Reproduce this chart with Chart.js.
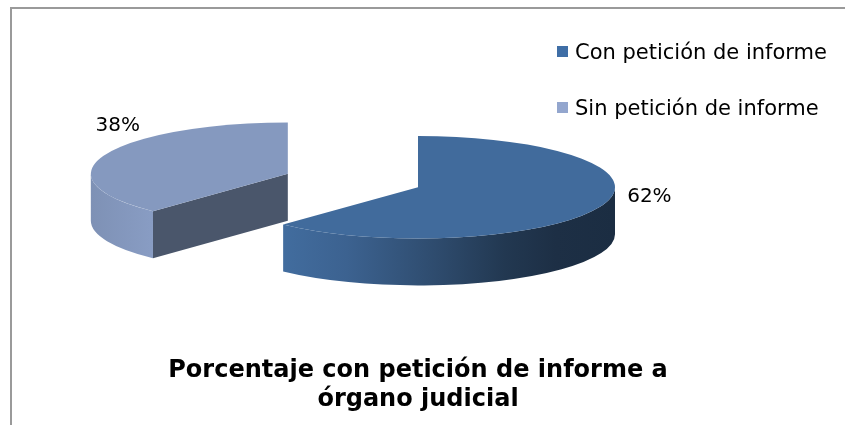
<!DOCTYPE html>
<html>
<head>
<meta charset="utf-8">
<script src="https://cdn.jsdelivr.net/npm/chart.js@4/dist/chart.umd.min.js"></script>
<style>
  html, body { margin: 0; padding: 0; background: #fff; overflow: hidden; }
</style>
</head>
<body>
<canvas id="chart" width="845" height="425"></canvas>
<script>
var categories = ['Con petición de informe', 'Sin petición de informe'];
var percentages = [62, 38];
var sliceColors = ['#416B9C', '#8599BF'];
var legendColors = ['#3F6EA6', '#93A6CE'];
var explode = [0, 140];
var titleLines = ['Porcentaje con petición de informe a', 'órgano judicial'];

// 3d look
var TILT = 0.26;   // ry / rx of the top face
var DEPTH = 47;    // wall height, px
var WALL_SHADE = [[0, 0.95], [0.15, 1.02], [0.32, 0.92], [0.55, 0.7], [0.72, 0.52], [0.85, 0.44], [1, 0.42]];
var FACE_SHADE = 0.56;
// label nudge from the rim point at the slice middle: dx, dy, align
var labelNudge = [[26, -9, 'left'], [13, -29, 'center']];

Chart.defaults.font.family = '"DejaVu Sans", Verdana, sans-serif';

function shade(hex, f) {
  var n = parseInt(hex.slice(1), 16);
  var r = Math.min(255, Math.round(((n >> 16) & 255) * f));
  var g = Math.min(255, Math.round(((n >> 8) & 255) * f));
  var b = Math.min(255, Math.round((n & 255) * f));
  return 'rgb(' + r + ',' + g + ',' + b + ')';
}

function drawSlice(ctx, s) {
  // outer wall, only the part turned to the viewer
  for (var k = -1; k <= 1; k++) {
    var a1 = Math.max(s.start, 2 * Math.PI * k);
    var a2 = Math.min(s.end, 2 * Math.PI * k + Math.PI);
    if (a2 <= a1) continue;
    var grad = ctx.createLinearGradient(s.cx - s.rx, 0, s.cx + s.rx, 0);
    WALL_SHADE.forEach(function(st) {
      grad.addColorStop(st[0], shade(s.color, st[1]));
    });
    ctx.beginPath();
    ctx.ellipse(s.cx, s.cy, s.rx, s.ry, 0, a1, a2);
    ctx.ellipse(s.cx, s.cy + DEPTH, s.rx, s.ry, 0, a2, a1, true);
    ctx.closePath();
    ctx.fillStyle = grad;
    ctx.fill();
  }

  // cut faces
  [[s.start, Math.cos(s.start) < -1e-6], [s.end, Math.cos(s.end) > 1e-6]].forEach(function(f) {
    if (!f[1]) return;
    var px = s.cx + s.rx * Math.cos(f[0]);
    var py = s.cy + s.ry * Math.sin(f[0]);
    ctx.beginPath();
    ctx.moveTo(s.cx, s.cy);
    ctx.lineTo(px, py);
    ctx.lineTo(px, py + DEPTH);
    ctx.lineTo(s.cx, s.cy + DEPTH);
    ctx.closePath();
    ctx.fillStyle = shade(s.color, FACE_SHADE);
    ctx.fill();
  });

  // top
  ctx.beginPath();
  ctx.moveTo(s.cx, s.cy);
  ctx.ellipse(s.cx, s.cy, s.rx, s.ry, 0, s.start, s.end);
  ctx.closePath();
  ctx.fillStyle = s.color;
  ctx.fill();
}

var pie3d = {
  id: 'pie3d',
  beforeDraw: function(chart) {
    // grey frame, top and left edges only
    var ctx = chart.ctx;
    ctx.save();
    ctx.fillStyle = '#9a9a9a';
    ctx.fillRect(10, 7, chart.width - 10, 2);
    ctx.fillRect(10, 7, 2, chart.height - 7);
    ctx.restore();
  },
  beforeDatasetsDraw: function(chart) {
    var ctx = chart.ctx;
    var ds = chart.data.datasets[0];
    var total = ds.data.reduce(function(a, b) { return a + b; }, 0);

    var slices = chart.getDatasetMeta(0).data.map(function(arc, i) {
      var p = arc.getProps(['x', 'y', 'startAngle', 'endAngle', 'outerRadius']);
      var mid = (p.startAngle + p.endAngle) / 2;
      var off = ds.offset[i] || 0;
      return {
        index: i,
        start: p.startAngle,
        end: p.endAngle,
        mid: mid,
        rx: p.outerRadius,
        ry: p.outerRadius * TILT,
        cx: p.x + Math.cos(mid) * off,
        cy: p.y + Math.sin(mid) * off * TILT,
        color: ds.backgroundColor[i]
      };
    });

    ctx.save();
    // back slices first
    slices.slice().sort(function(a, b) { return a.cy - b.cy; }).forEach(function(s) {
      drawSlice(ctx, s);
    });

    ctx.font = '20px "DejaVu Sans"';
    ctx.fillStyle = '#000';
    ctx.textBaseline = 'middle';
    slices.forEach(function(s) {
      var n = labelNudge[s.index];
      var x = s.cx + s.rx * Math.cos(s.mid);
      var y = s.cy + s.ry * Math.sin(s.mid);
      ctx.textAlign = n[2];
      ctx.fillText(Math.round(ds.data[s.index] / total * 100) + '%', x + n[0], y + n[1]);
    });
    ctx.restore();
    return false;
  },
  afterDraw: function(chart) {
    // legend, stacked at the upper right
    var ctx = chart.ctx;
    ctx.save();
    ctx.font = '21px "DejaVu Sans"';
    ctx.textBaseline = 'alphabetic';
    ctx.textAlign = 'left';
    chart.data.labels.forEach(function(label, i) {
      var y = 46 + i * 56;
      ctx.fillStyle = legendColors[i];
      ctx.fillRect(557, y, 11, 11);
      ctx.fillStyle = '#000';
      ctx.fillText(label, 575, y + 13);
    });
    ctx.restore();
  }
};

new Chart(document.getElementById('chart'), {
  type: 'pie',
  data: {
    labels: categories,
    datasets: [{
      data: percentages,
      backgroundColor: sliceColors,
      offset: explode,
      borderWidth: 0,
      radius: 197
    }]
  },
  options: {
    responsive: false,
    animation: false,
    devicePixelRatio: 1,
    events: [],
    layout: { padding: { left: 0, right: 9, top: 18, bottom: 11 } },
    plugins: {
      legend: { display: false },
      tooltip: { enabled: false },
      title: {
        display: true,
        position: 'bottom',
        text: titleLines,
        color: '#000',
        padding: 0,
        font: { size: 24, weight: 'bold', lineHeight: 1.2 }
      }
    }
  },
  plugins: [pie3d]
});
</script>
</body>
</html>
